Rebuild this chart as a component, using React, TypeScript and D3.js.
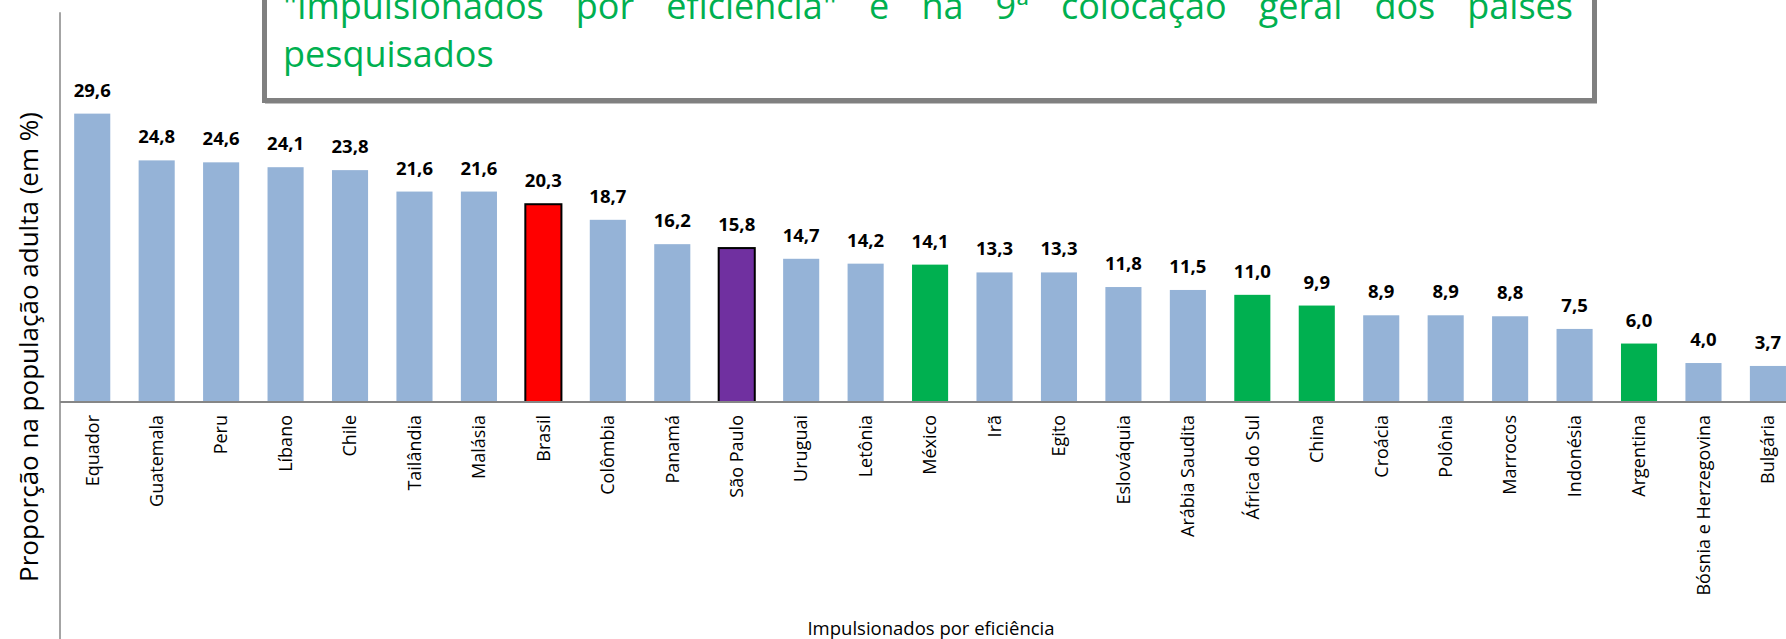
import React, { useRef, useEffect } from 'react';
import { select, scaleBand, scaleLinear } from 'd3';

// countries in chart order (left to right)
const countries = [
  'Equador', 'Guatemala', 'Peru', 'Líbano', 'Chile', 'Tailândia', 'Malásia',
  'Brasil', 'Colômbia', 'Panamá', 'São Paulo', 'Uruguai', 'Letônia', 'México',
  'Irã', 'Egito', 'Eslováquia', 'Arábia Saudita', 'África do Sul', 'China',
  'Croácia', 'Polônia', 'Marrocos', 'Indonésia', 'Argentina',
  'Bósnia e Herzegovina', 'Bulgária',
];

// proportion of the adult population (%)
const values = [
  29.6, 24.8, 24.6, 24.1, 23.8, 21.6, 21.6,
  20.3, 18.7, 16.2, 15.8, 14.7, 14.2, 14.1,
  13.3, 13.3, 11.8, 11.5, 11.0, 9.9,
  8.9, 8.9, 8.8, 7.5, 6.0,
  4.0, 3.7,
];

const brazil = ['Brasil'];
const saoPaulo = ['São Paulo'];
const highlighted = ['México', 'África do Sul', 'China', 'Argentina'];

const yAxisTitle = 'Proporção na população adulta (em %)';
const xAxisTitle = 'Impulsionados por eficiência';
const noteLine1 = ['"impulsionados', 'por', 'eficiência"', 'e', 'na', '9ª', 'colocação', 'geral', 'dos', 'países'];
const noteLine2 = 'pesquisados';

const FONT = "'Open Sans', sans-serif";
const BLUE = '#95b3d7';
const GREEN = '#00b050';

function barFill(name: string) {
  if (brazil.includes(name)) return '#ff0000';
  if (saoPaulo.includes(name)) return '#7030a0';
  if (highlighted.includes(name)) return GREEN;
  return BLUE;
}

function App() {
  const svgRef: any = useRef();
  const width = 1786;
  const height = 639;
  const left = 60;
  const step = 64.45;

  const x = scaleBand<string>()
    .domain(countries)
    .range([left, left + countries.length * step])
    .paddingInner(0.44)
    .paddingOuter(0.22);

  const y = scaleLinear().domain([0, 40]).range([402, 12.3]);

  useEffect(() => {
    // justify the first line of the note between its margins
    const svg = select(svgRef.current);
    const words: any = svg.selectAll('.note1 tspan');
    const x0 = 283;
    const x1 = 1573;
    let total = 0;
    const widths: number[] = [];
    words.each(function (this: any) {
      const w = this.getComputedTextLength();
      widths.push(w);
      total += w;
    });
    const gap = (x1 - x0 - total) / (widths.length - 1);
    let pos = x0;
    words.each(function (this: any, _d: any, i: number) {
      select(this).attr('x', pos);
      pos += widths[i] + gap;
    });
  }, []);

  return (
    <svg
      ref={svgRef}
      width={width}
      height={height}
      style={{ position: 'absolute', left: 0, top: 0, background: '#fff' }}
      fontFamily={FONT}
    >
      {/* note box */}
      <rect x={266} y={-10} width={1330} height={113} fill="none" stroke="#c0c0c0" strokeWidth={2} />
      <rect x={264.5} y={-10} width={1330} height={110.5} fill="#fff" stroke="#808080" strokeWidth={5} />
      <text className="note1" y={19} fontSize={36} fill={GREEN}>
        {noteLine1.map((w, i) => (
          <tspan key={i} x={283 + i * 120}>{w}</tspan>
        ))}
      </text>
      <text x={283} y={67} fontSize={36} fill={GREEN}>{noteLine2}</text>

      {/* axes */}
      <line x1={left} x2={left} y1={12.3} y2={height} stroke="#868686" strokeWidth={1.5} />

      {countries.map((c, i) => {
        const fill = barFill(c);
        const outlined = brazil.includes(c) || saoPaulo.includes(c);
        return (
          <rect
            key={c}
            x={x(c)}
            y={y(values[i])}
            width={x.bandwidth()}
            height={y(0) - y(values[i])}
            fill={fill}
            stroke={outlined ? '#000' : 'none'}
            strokeWidth={outlined ? 2 : 0}
          />
        );
      })}

      <line x1={left} x2={width} y1={y(0)} y2={y(0)} stroke="#868686" strokeWidth={2} />

      {countries.map((c, i) => (
        <text
          key={'v' + c}
          x={(x(c) as number) + x.bandwidth() / 2}
          y={y(values[i]) - 17}
          textAnchor="middle"
          fontSize={18.5}
          fontWeight="bold"
          fill="#000"
        >
          {values[i].toFixed(1).replace('.', ',')}
        </text>
      ))}

      {countries.map((c) => {
        const cx = (x(c) as number) + x.bandwidth() / 2;
        return (
          <text
            key={'l' + c}
            transform={`translate(${cx},${y(0) + 13}) rotate(-90)`}
            textAnchor="end"
            dy="0.35em"
            fontSize={18}
            fill="#000"
          >
            {c}
          </text>
        );
      })}

      <text
        transform={`translate(38,347) rotate(-90)`}
        textAnchor="middle"
        fontSize={26}
        fill="#000"
      >
        {yAxisTitle}
      </text>

      <text x={931} y={635} textAnchor="middle" fontSize={18.5} fill="#000">
        {xAxisTitle}
      </text>
    </svg>
  );
}

export default App;
